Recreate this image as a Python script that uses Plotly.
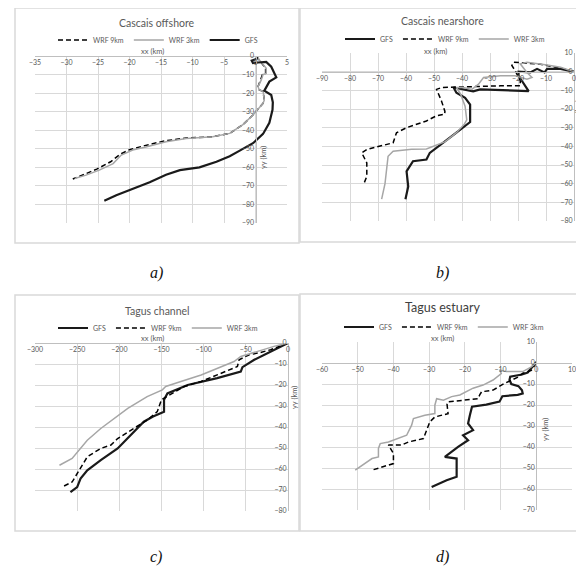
import plotly.graph_objects as go

# ---------------- data ----------------
# Panel a) Cascais offshore
a_gfs_x = [0.3, 0.2, -0.6, -0.4, 0.4, 1.7, 2.5, 3.0, 3.3, 2.2, 1.7, 1.4, 2.5, 2.75, 2.7, 2.2, 1.2, -0.4, -2.5, -4.1, -6.2, -8.9, -12.0, -14.2, -16.8, -19.5, -22.1, -24.0]
a_gfs_y = [0.3, -1.5, -2.5, -3.8, -3.5, -3.2, -5.8, -9.7, -11.5, -13.8, -16.5, -18.7, -21.0, -25.0, -29.0, -36.0, -42.0, -47.0, -51.0, -54.0, -57.0, -60.0, -61.5, -64.0, -68.0, -71.4, -75.0, -78.0]
a_w3_x = [0.1, 0.8, 1.7, 1.7, 1.2, 0.9, 0.4, 0.6, 1.2, 1.4, 1.2, -0.4, -2.0, -4.1, -6.8, -11.0, -14.2, -17.4, -19.5, -21.3, -22.6, -24.8, -26.9, -28.7]
a_w3_y = [0.0, -3.0, -6.6, -9.4, -10.0, -13.0, -16.5, -18.3, -19.0, -23.7, -25.5, -31.8, -37.0, -41.7, -43.5, -44.4, -46.2, -49.0, -50.7, -53.4, -58.0, -61.5, -64.2, -66.0]
a_w9_x = [0.1, 0.8, 1.6, 1.6, 1.1, 0.8, 0.4, 0.6, 1.2, 1.4, 1.2, -0.4, -2.0, -4.1, -6.8, -11.0, -14.5, -17.6, -20.0, -21.5, -23.0, -25.2, -27.2, -29.0]
a_w9_y = [0.0, -3.0, -6.6, -9.4, -10.0, -13.0, -16.5, -18.3, -19.0, -23.7, -25.5, -31.8, -37.0, -41.7, -43.5, -44.2, -45.8, -48.3, -50.5, -53.0, -57.0, -61.0, -63.8, -66.3]

# Panel b) Cascais nearshore
b_gfs_x = [0, -4.8, -9.6, -10.5, -13.2, -15.6, -19.8, -19.8, -16.2, -25.0, -33.5, -36.0, -40.0, -43.0, -42.0, -38.9, -37.1, -37.1, -42.0, -46.8, -51.5, -52.7, -57.5, -59.8, -59.2, -60.2]
b_gfs_y = [0, 1.5, 1.5, -0.4, 1.5, -0.4, 0.0, -2.2, -10.4, -10.0, -9.5, -10.5, -9.5, -8.5, -11.3, -14.0, -17.6, -27.0, -32.7, -38.1, -43.5, -47.1, -48.0, -53.4, -61.5, -68.3]
b_w9_x = [0, -5.0, -12.0, -19.2, -21.6, -22.2, -21.0, -19.2, -19.2, -26.3, -38.3, -43.0, -47.3, -49.1, -47.3, -46.1, -46.2, -49.2, -52.7, -59.8, -63.4, -64.6, -69.3, -74.0, -75.8, -74.0, -74.0, -75.2]
b_w9_y = [0, 2.0, 4.0, 4.7, 5.1, 3.3, 0.5, -4.9, -7.6, -7.6, -8.2, -8.2, -8.5, -9.5, -15.8, -21.3, -22.8, -23.7, -26.4, -30.0, -32.7, -38.1, -40.0, -41.7, -43.5, -48.9, -56.1, -60.6]
b_w3_x = [0, -4.8, -9.6, -14.4, -16.8, -19.2, -16.8, -15.0, -16.8, -21.0, -26.3, -32.3, -34.1, -36.5, -39.5, -42.0, -40.5, -38.9, -38.3, -39.1, -42.0, -46.0, -52.7, -58.0, -64.6, -66.4, -66.9, -67.5, -68.7]
b_w3_y = [0, 2.4, 3.6, 4.7, 5.1, 4.2, -0.4, -3.1, -4.0, -2.2, -2.2, -3.1, -6.7, -9.5, -8.5, -8.5, -12.0, -18.5, -25.8, -28.0, -32.7, -37.5, -41.4, -41.5, -42.6, -45.3, -52.5, -60.0, -68.3]

# Panel c) Tagus channel
c_gfs_x = [0, -16.6, -28.5, -40, -54, -56, -84, -119, -143, -147, -147, -160, -171, -187, -202, -222, -238, -246, -250, -258]
c_gfs_y = [0, -3.2, -5.6, -8, -11.5, -13.6, -16.7, -20, -24, -27, -32.7, -35, -37.5, -43.9, -50.2, -55.8, -60.6, -64.6, -68.6, -71]
c_w9_x = [0, -20.6, -32.4, -46, -58, -60, -84, -103, -123, -143, -150, -155, -167, -183, -202, -210, -222, -238, -248, -256, -268]
c_w9_y = [0, -3.2, -4.5, -5.6, -8, -11.2, -15.2, -18.3, -20.7, -25.5, -27, -32.7, -36.7, -40.7, -45.5, -48.6, -50.2, -54.2, -60.6, -66.2, -68.6]
c_w3_x = [0, -16.6, -36, -56, -64, -84, -103, -127, -145, -149, -167, -190, -206, -222, -238, -250, -256, -271]
c_w3_y = [0, -1.6, -4, -6.4, -8.8, -12, -15.2, -18.3, -20.7, -22.3, -25.5, -31.1, -35.9, -40.7, -46.3, -51.8, -55, -58.2]

# Panel d) Tagus estuary
d_gfs_x = [0, -2.4, -4.0, -7.3, -7.5, -7.0, -5.0, -4.0, -3.8, -5.2, -9.5, -10.3, -14.0, -18.0, -18.6, -19.1, -17.7, -20.5, -19.1, -21.9, -25.6, -22.3, -22.3, -25.1, -29.3]
d_gfs_y = [0.5, -4.5, -5.5, -6.5, -8.0, -10.0, -11.0, -13.0, -14.5, -15.2, -15.8, -18.4, -19.8, -20.8, -24.9, -28.8, -32.0, -34.4, -36.8, -39.9, -44.7, -45.5, -54.2, -55.8, -59.0]
d_w9_x = [0, -1.4, -3.8, -5.1, -8.9, -12.1, -15.3, -15.8, -16.3, -20.0, -24.7, -25.0, -24.7, -28.4, -29.8, -30.7, -31.6, -35.8, -37.7, -41.4, -40.0, -40.0, -41.4, -46.0]
d_w9_y = [0, -3.5, -4.9, -6.7, -9.7, -12.9, -13.7, -15.0, -17.0, -17.7, -18.5, -19.5, -24.1, -25.7, -28.0, -32.0, -36.0, -37.6, -39.1, -39.1, -43.1, -47.9, -48.7, -51.0]
d_w3_x = [0, -1.5, -3.8, -8.4, -10.3, -9.8, -12.1, -14.9, -17.7, -21.4, -23.7, -26.0, -27.9, -28.4, -28.4, -31.2, -34.4, -34.9, -36.3, -38.6, -41.4, -43.7, -44.2, -44.2, -46.0, -50.7]
d_w3_y = [0, -2.0, -4.1, -4.1, -3.3, -5.0, -8.1, -10.5, -12.0, -15.2, -16.0, -17.7, -17.0, -20.1, -24.1, -24.9, -26.5, -29.6, -34.4, -36.0, -37.6, -38.4, -40.7, -44.7, -45.5, -51.0]

titles = ["Cascais offshore", "Cascais nearshore", "Tagus channel", "Tagus estuary"]
letters = ["a)", "b)", "c)", "d)"]
x_label = "xx (km)"
y_label = "yy (km)"

# ---------------- layout helpers ----------------
# the page body keeps its default 8px margin, so the figure is drawn 8px in
OFF = 8
W, H = 584 - OFF, 570 - OFF
def fx(px): return (px - OFF) / W
def fy(py): return 1 - (py - OFF) / H

panels = [
    dict(box=(35, 287, 56, 223), xr=(-35, 5), yr=(-90, 0), dx=5,
         series=[("WRF 9km", a_w9_x, a_w9_y), ("WRF 3km", a_w3_x, a_w3_y), ("GFS", a_gfs_x, a_gfs_y)],
         title_xy=(157, 23), leg_xy=(158, 40), xl_xy=(152, 51), yl_xy=(264, 158),
         border=(15, 299, 8, 243), letter_xy=(156, 273), tsize=10.5),
    dict(box=(322, 574, 53, 221), xr=(-90, 0), yr=(-80, 10), dx=10,
         series=[("GFS", b_gfs_x, b_gfs_y), ("WRF 9km", b_w9_x, b_w9_y), ("WRF 3km", b_w3_x, b_w3_y)],
         title_xy=(442, 21), leg_xy=(445, 39), xl_xy=(435, 51), yl_xy=(579, 112),
         border=(300, 583, 8, 242), letter_xy=(442, 273), tsize=10.5),
    dict(box=(35, 288, 343, 511), xr=(-300, 0), yr=(-80, 0), dx=50,
         series=[("GFS", c_gfs_x, c_gfs_y), ("WRF 9km", c_w9_x, c_w9_y), ("WRF 3km", c_w3_x, c_w3_y)],
         title_xy=(157, 311), leg_xy=(158, 328), xl_xy=(152, 338), yl_xy=(294, 398),
         border=(15, 299, 295, 531), letter_xy=(156, 557), tsize=10.5),
    dict(box=(322, 572, 342, 510), xr=(-60, 10), yr=(-70, 10), dx=10,
         series=[("GFS", d_gfs_x, d_gfs_y), ("WRF 9km", d_w9_x, d_w9_y), ("WRF 3km", d_w3_x, d_w3_y)],
         title_xy=(442, 308), leg_xy=(444, 327), xl_xy=(442, 338), yl_xy=(545, 430),
         border=(300, 583, 294, 531), letter_xy=(442, 557), tsize=12.5),
]

styles = {
    "GFS": dict(color="#1a1a1a", width=2.2, dash="solid"),
    "WRF 9km": dict(color="#000000", width=1.5, dash="5px,3px"),
    "WRF 3km": dict(color="#a6a6a6", width=1.5, dash="solid"),
}

FONT = "Lato"
TICKCOL = "#595959"
GRID = "#d9d9d9"

fig = go.Figure()
layout = dict(width=W, height=H, margin=dict(l=0, r=0, t=0, b=0, autoexpand=False),
              paper_bgcolor="white", plot_bgcolor="white", showlegend=True)
annotations, shapes = [], []

for i, p in enumerate(panels):
    n = i + 1
    sfx = "" if n == 1 else str(n)
    legname = "legend" if n == 1 else f"legend{n}"
    x0, x1, yt, yb = p["box"]
    xmin, xmax = p["xr"]
    ymin, ymax = p["yr"]
    for name, xs, ys in p["series"]:
        st = styles[name]
        fig.add_trace(go.Scatter(x=xs, y=ys, mode="lines", name=name,
                                 line=dict(color=st["color"], width=st["width"], dash=st["dash"]),
                                 xaxis="x" + sfx, yaxis="y" + sfx, legend=legname,
                                 hoverinfo="skip"))
    ypos_px = yt + (ymax - 0) / (ymax - ymin) * (yb - yt)
    xpos_px = x0 + (0 - xmin) / (xmax - xmin) * (x1 - x0)
    common = dict(showgrid=True, gridcolor=GRID, gridwidth=1, zeroline=False,
                  showline=True, linecolor="#bfbfbf", linewidth=1, ticks="", tick0=0,
                  tickfont=dict(family=FONT, size=7, color=TICKCOL), fixedrange=True,
                  anchor="free")
    layout["xaxis" + sfx] = dict(domain=[fx(x0), fx(x1)], range=[xmin, xmax], dtick=p["dx"],
                                 position=fy(ypos_px), side="bottom", **common)
    layout["yaxis" + sfx] = dict(domain=[fy(yb), fy(yt)], range=[ymin, ymax], dtick=10,
                                 position=fx(xpos_px), side="left", **common)
    layout[legname] = dict(x=fx(p["leg_xy"][0]), y=fy(p["leg_xy"][1]), xanchor="center",
                           yanchor="middle", orientation="h", bgcolor="rgba(0,0,0,0)",
                           font=dict(family=FONT, size=7, color=TICKCOL), itemwidth=30,
                           traceorder="normal")
    tc = "#404040" if n == 4 else TICKCOL
    def ann(text, xy, size, color, family=FONT, angle=0):
        return dict(text=text, x=fx(xy[0]), y=fy(xy[1]), xref="paper", yref="paper",
                    xanchor="center", yanchor="middle", showarrow=False, textangle=angle,
                    font=dict(family=family, size=size, color=color))
    annotations.append(ann(titles[i], p["title_xy"], p["tsize"], tc))
    annotations.append(ann(x_label, p["xl_xy"], 7.5, TICKCOL))
    annotations.append(ann(y_label, p["yl_xy"], 7.5, TICKCOL, angle=-90))
    annotations.append(ann("<i>" + letters[i] + "</i>", p["letter_xy"], 16, "#111111",
                           family="Liberation Serif"))
    bx0, bx1, by0, by1 = p["border"]
    shapes.append(dict(type="rect", xref="paper", yref="paper", x0=fx(bx0), x1=fx(bx1),
                       y0=fy(by1), y1=fy(by0), line=dict(color="#d9d9d9", width=1.5),
                       layer="below"))

layout["annotations"] = annotations
layout["shapes"] = shapes
fig.update_layout(**layout)
fig.write_html("out.html")
